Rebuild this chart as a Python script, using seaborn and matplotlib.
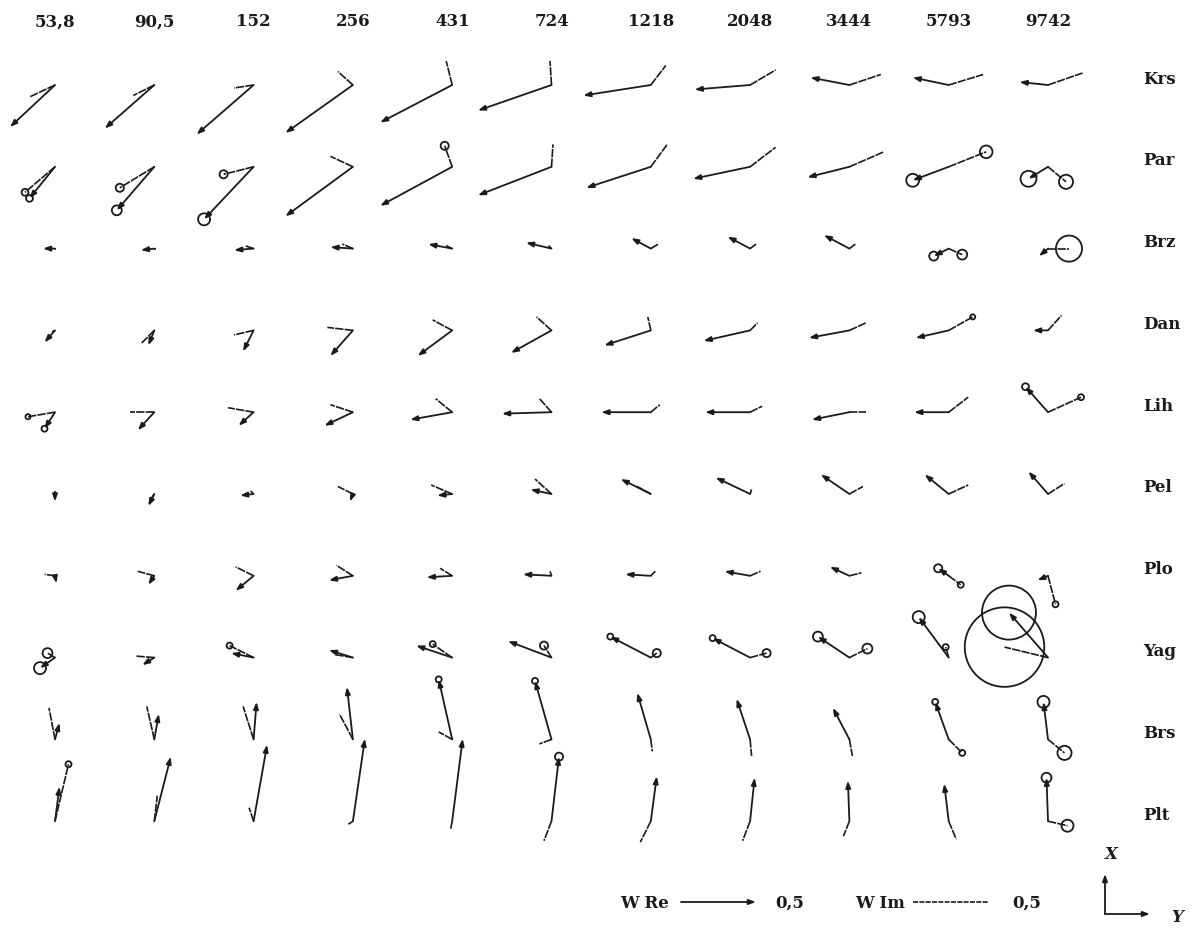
import numpy as np
import pandas as pd
import matplotlib
matplotlib.use("Agg")
import matplotlib.pyplot as plt
import seaborn as sns
from matplotlib.patches import FancyArrowPatch, Circle

# ---------------- data ----------------
periods = ["53,8", "90,5", "152", "256", "431", "724", "1218", "2048", "3444", "5793", "9742"]
stations = ["Krs", "Par", "Brz", "Dan", "Lih", "Pel", "Plo", "Yag", "Brs", "Plt"]

# Real induction vector: Y (east, right) and X (north, up) components
re_Y = [
    [-0.30, -0.33, -0.38, -0.45, -0.48, -0.49, -0.45, -0.37, -0.26, -0.24, -0.19],
    [-0.17, -0.25, -0.33, -0.45, -0.48, -0.49, -0.43, -0.38, -0.28, -0.24, -0.13],
    [-0.08, -0.09, -0.13, -0.15, -0.16, -0.17, -0.13, -0.15, -0.17, -0.10, -0.06],
    [-0.07, -0.04, -0.07, -0.15, -0.23, -0.27, -0.31, -0.31, -0.27, -0.22, -0.10],
    [-0.07, -0.11, -0.10, -0.19, -0.28, -0.33, -0.33, -0.30, -0.25, -0.23, -0.15],
    [0.00, -0.04, -0.09, -0.02, -0.10, -0.14, -0.20, -0.23, -0.19, -0.16, -0.13],
    [0.01, -0.04, -0.12, -0.16, -0.17, -0.19, -0.17, -0.17, -0.13, -0.07, -0.07],
    [-0.10, -0.08, -0.15, -0.16, -0.24, -0.29, -0.27, -0.25, -0.21, -0.20, -0.26],
    [0.03, 0.03, 0.02, -0.04, -0.09, -0.11, -0.09, -0.09, -0.11, -0.09, -0.03],
    [0.03, 0.11, 0.09, 0.08, 0.07, 0.05, 0.04, 0.03, -0.01, -0.03, -0.01],
]
re_X = [
    [-0.28, -0.29, -0.33, -0.32, -0.25, -0.17, -0.07, -0.03, 0.05, 0.05, 0.02],
    [-0.21, -0.29, -0.35, -0.33, -0.26, -0.19, -0.14, -0.08, -0.07, -0.09, -0.08],
    [0.00, -0.01, -0.01, 0.01, 0.03, 0.04, 0.07, 0.08, 0.09, -0.05, -0.05],
    [-0.08, -0.10, -0.14, -0.17, -0.17, -0.15, -0.10, -0.07, -0.05, -0.05, 0.00],
    [-0.11, -0.12, -0.09, -0.09, -0.05, -0.01, 0.00, 0.00, -0.05, 0.00, 0.17],
    [-0.05, -0.08, -0.01, -0.05, -0.01, 0.03, 0.10, 0.11, 0.13, 0.13, 0.15],
    [-0.05, -0.06, -0.10, -0.03, -0.01, 0.01, 0.01, 0.03, 0.06, 0.05, -0.03],
    [-0.07, -0.05, 0.03, 0.05, 0.08, 0.11, 0.14, 0.13, 0.14, 0.27, 0.30],
    [0.11, 0.17, 0.25, 0.35, 0.40, 0.39, 0.31, 0.27, 0.21, 0.25, 0.25],
    [0.23, 0.43, 0.51, 0.55, 0.55, 0.43, 0.30, 0.29, 0.27, 0.25, 0.29],
]
# Imaginary induction vector
im_Y = [
    [-0.17, -0.14, -0.13, -0.10, -0.04, -0.01, 0.10, 0.17, 0.21, 0.23, 0.23],
    [-0.20, -0.23, -0.20, -0.15, -0.05, 0.01, 0.11, 0.17, 0.23, 0.25, 0.12],
    [0.01, 0.01, -0.06, -0.07, -0.04, -0.02, 0.05, 0.04, 0.04, 0.09, 0.14],
    [-0.02, -0.09, -0.13, -0.17, -0.13, -0.10, -0.02, 0.05, 0.11, 0.16, 0.09],
    [-0.18, -0.16, -0.17, -0.15, -0.11, -0.08, 0.06, 0.08, 0.11, 0.13, 0.22],
    [0.00, -0.02, -0.02, -0.10, -0.14, -0.11, -0.09, 0.01, 0.09, 0.13, 0.11],
    [-0.07, -0.11, -0.12, -0.11, -0.08, -0.01, 0.03, 0.07, 0.08, 0.08, 0.05],
    [-0.05, -0.12, -0.16, -0.12, -0.13, -0.05, 0.04, 0.11, 0.12, -0.02, -0.29],
    [-0.04, -0.05, -0.07, -0.09, -0.09, -0.08, 0.01, 0.01, 0.02, 0.09, 0.11],
    [0.09, 0.02, -0.03, -0.03, -0.01, -0.05, -0.07, -0.05, -0.04, 0.05, 0.13],
]
im_X = [
    [-0.08, -0.07, -0.02, 0.09, 0.16, 0.16, 0.13, 0.10, 0.07, 0.07, 0.08],
    [-0.17, -0.14, -0.05, 0.07, 0.14, 0.15, 0.15, 0.13, 0.10, 0.10, -0.10],
    [0.00, 0.00, 0.02, 0.03, 0.02, 0.02, 0.03, 0.03, 0.03, -0.04, 0.00],
    [-0.01, -0.09, -0.03, 0.02, 0.07, 0.09, 0.09, 0.05, 0.05, 0.09, 0.10],
    [-0.03, 0.00, 0.03, 0.05, 0.09, 0.09, 0.05, 0.04, 0.00, 0.10, 0.10],
    [0.02, -0.03, 0.02, 0.05, 0.06, 0.10, 0.05, 0.03, 0.05, 0.06, 0.07],
    [0.01, 0.03, 0.06, 0.07, 0.05, 0.03, 0.03, 0.03, 0.02, -0.06, -0.19],
    [0.03, 0.01, 0.08, 0.02, 0.09, 0.08, 0.03, 0.03, 0.06, 0.07, 0.07],
    [0.21, 0.22, 0.22, 0.17, 0.05, -0.03, -0.08, -0.11, -0.11, -0.09, -0.09],
    [0.38, 0.17, 0.09, -0.02, -0.05, -0.13, -0.14, -0.13, -0.10, -0.12, -0.03],
]
# error radii (0 = no circle drawn)
re_err = [
    [0, 0, 0, 0, 0, 0, 0, 0, 0, 0, 0],
    [0.023, 0.033, 0.040, 0, 0, 0, 0, 0, 0, 0.043, 0.053],
    [0, 0, 0, 0, 0, 0, 0, 0, 0, 0.030, 0],
    [0, 0, 0, 0, 0, 0, 0, 0, 0, 0, 0],
    [0.020, 0, 0, 0, 0, 0, 0, 0, 0, 0, 0.023],
    [0, 0, 0, 0, 0, 0, 0, 0, 0, 0, 0],
    [0, 0, 0, 0, 0, 0, 0, 0, 0, 0.027, 0],
    [0.040, 0, 0, 0, 0, 0, 0.020, 0.020, 0.033, 0.040, 0.180],
    [0, 0, 0, 0, 0.020, 0.020, 0, 0, 0, 0.020, 0.040],
    [0, 0, 0, 0, 0, 0.027, 0, 0, 0, 0, 0.033],
]
im_err = [
    [0, 0, 0, 0, 0, 0, 0, 0, 0, 0, 0],
    [0.023, 0.027, 0.027, 0, 0.027, 0, 0, 0, 0, 0.042, 0.047],
    [0, 0, 0, 0, 0, 0, 0, 0, 0, 0.033, 0.087],
    [0, 0, 0, 0, 0, 0, 0, 0, 0, 0.017, 0],
    [0.017, 0, 0, 0, 0, 0, 0, 0, 0, 0, 0.020],
    [0, 0, 0, 0, 0, 0, 0, 0, 0, 0, 0],
    [0, 0, 0, 0, 0, 0, 0, 0, 0, 0.020, 0.020],
    [0.033, 0, 0.020, 0, 0.020, 0.027, 0.027, 0.027, 0.033, 0.020, 0.265],
    [0, 0, 0, 0, 0, 0, 0, 0, 0, 0.020, 0.047],
    [0.020, 0, 0, 0, 0, 0, 0, 0, 0, 0, 0.040],
]
scale_value = 0.5

# ---------------- drawing ----------------
sns.set_theme(style="white")
plt.rcParams['font.family'] = ['DejaVu Serif']

W, H, DPI = 1199, 929, 100
fig = plt.figure(figsize=(W / DPI, H / DPI), dpi=DPI)
ax = fig.add_axes([0, 0, 1, 1])
S = 150.0                      # pixels per unit of induction vector
ax.set_xlim(-55 / S, (W - 55) / S)
ax.set_ylim(-(H - 86) / S, 86 / S)
ax.axis('off')

col_step = 99.3 / S
row_step = 81.8 / S
ink = '#1a1a1a'
arrow_style = '-|>,head_length=0.55,head_width=0.2'
arrow_ms = 7.5

rows = []
for i, st in enumerate(stations):
    for j, p in enumerate(periods):
        rows.append(dict(station=st, period=p, i=i, j=j,
                         reY=re_Y[i][j], reX=re_X[i][j],
                         imY=im_Y[i][j], imX=im_X[i][j],
                         rerr=re_err[i][j], ierr=im_err[i][j]))
df = pd.DataFrame(rows)
df['ox'] = df['j'] * col_step
df['oy'] = -df['i'] * row_step

# imaginary vectors as finely dashed segments (one unit per cell)
seg = pd.concat([
    pd.DataFrame({'x': df['ox'], 'y': df['oy'], 'cell': df.index, 'k': 0}),
    pd.DataFrame({'x': df['ox'] + df['imY'], 'y': df['oy'] + df['imX'], 'cell': df.index, 'k': 1}),
]).sort_values(['cell', 'k'])
sns.lineplot(data=seg, x='x', y='y', units='cell', estimator=None, sort=False,
             color=ink, lw=1.2, legend=False, ax=ax)
for ln in ax.lines:
    ln.set_dashes((5.0, 0.7))

# real vectors as arrows
for _, r in df.iterrows():
    tip = (r.ox + r.reY, r.oy + r.reX)
    ax.add_patch(FancyArrowPatch((r.ox, r.oy), tip, arrowstyle=arrow_style,
                                 mutation_scale=arrow_ms, lw=1.3, color=ink,
                                 shrinkA=0, shrinkB=0, zorder=3))
    if r.rerr > 0:
        ax.add_patch(Circle(tip, r.rerr, fill=False, lw=1.3, ec=ink, zorder=3))
    if r.ierr > 0:
        ax.add_patch(Circle((r.ox + r.imY, r.oy + r.imX), r.ierr, fill=False,
                            lw=1.3, ec=ink, zorder=3))

# column (period) labels
lab_kw = dict(fontsize=12, fontweight='bold', color='#1a1a1a')
for j, p in enumerate(periods):
    ax.text(j * col_step, (86 - 22) / S, p, ha='center', va='center', **lab_kw)
# row (station) labels
for i, st in enumerate(stations):
    ax.text((1143 - 55) / S, -i * row_step + 7 / S, st, ha='left', va='center', **lab_kw)

# scale legend
ly = (86 - 903) / S
ax.text((669 - 55) / S, ly, "W Re", ha='right', va='center', **lab_kw)
x0 = (681 - 55) / S
ax.add_patch(FancyArrowPatch((x0, ly), (x0 + scale_value, ly), arrowstyle=arrow_style,
                             mutation_scale=arrow_ms, lw=1.3, color=ink, shrinkA=0, shrinkB=0))
ax.text((775 - 55) / S, ly, "0,5", ha='left', va='center', **lab_kw)
ax.text((905 - 55) / S, ly, "W Im", ha='right', va='center', **lab_kw)
x1 = (913 - 55) / S
ax.plot([x1, x1 + scale_value], [ly, ly], color=ink, lw=1.2, dashes=(3.0, 0.8))
ax.text((1012 - 55) / S, ly, "0,5", ha='left', va='center', **lab_kw)

# axes orientation symbol
cx, cy = (1105 - 55) / S, (86 - 915) / S
ax.add_patch(FancyArrowPatch((cx, cy), (cx, cy + 40 / S), arrowstyle=arrow_style,
                             mutation_scale=arrow_ms, lw=1.3, color=ink, shrinkA=0, shrinkB=0))
ax.add_patch(FancyArrowPatch((cx, cy), (cx + 45 / S, cy), arrowstyle=arrow_style,
                             mutation_scale=arrow_ms, lw=1.3, color=ink, shrinkA=0, shrinkB=0))
ax.text(cx + 6 / S, cy + 60 / S, "X", ha='center', va='center', fontstyle='italic', **lab_kw)
ax.text(cx + 72 / S, cy - 3 / S, "Y", ha='center', va='center', fontstyle='italic', **lab_kw)

fig.savefig("out.png", dpi=DPI, facecolor='white')
